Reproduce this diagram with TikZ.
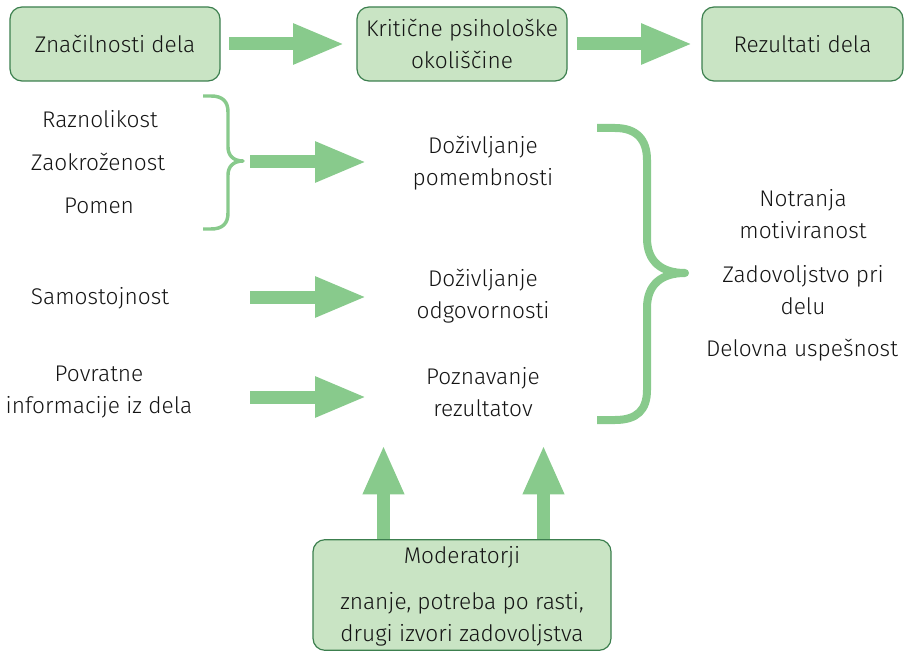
\documentclass[tikz,border=0pt]{standalone}
\usepackage{fontspec}
\setmainfont{Fira Sans}[UprightFont=* Light]
\usetikzlibrary{arrows.meta}
\definecolor{boxfill}{HTML}{C9E4C4}
\definecolor{boxline}{HTML}{3C7F4E}
\definecolor{arrowgreen}{HTML}{88CA8C}
\definecolor{ink}{HTML}{141414}
\begin{document}
\begin{tikzpicture}[x=0.75pt,y=-0.75pt,
  every node/.style={font=\fontsize{17}{24}\selectfont, text=ink, align=center},
  box/.style={draw=boxline, line width=0.9pt, fill=boxfill, rounded corners=9pt, inner sep=0pt},
  fat/.style={draw=arrowgreen, line width=9.75pt, -{Triangle[length=39pt,width=28pt]}},
  fatv/.style={draw=arrowgreen, line width=9.75pt, -{Triangle[length=37pt,width=28.5pt]}},
  brace/.style={draw=arrowgreen, line cap=butt, line join=round}]
\useasboundingbox (0,0) rectangle (913,652);

% header boxes
\node[box, minimum width=157.5pt, minimum height=55.5pt] (b1) at (115,44) {Značilnosti dela};
\node[box, minimum width=157.5pt, minimum height=55.5pt] (b2) at (462,44) {Kritične psihološke\\okoliščine};
\node[box, minimum width=150.75pt, minimum height=55.5pt] (b3) at (802.5,44) {Rezultati dela};

% moderator box
\node[box, minimum width=223.5pt, minimum height=83pt] (b4) at (462,595) {};
\node (mod) at (462,557) {Moderatorji};
\node (modtxt) at (462,619) {znanje, potreba po rasti,\\drugi izvori zadovoljstva};

% job characteristics
\node (raz) at (100,119) {Raznolikost};
\node (zao) at (98,162) {Zaokroženost};
\node (pom) at (99,206) {Pomen};
\node (sam) at (100,298) {Samostojnost};
\node (pov) at (99,392) {Povratne\\informacije iz dela};

% psychological states
\node (s1) at (483,163) {Doživljanje\\pomembnosti};
\node (s2) at (483,296) {Doživljanje\\odgovornosti};
\node (s3) at (483,392) {Poznavanje\\rezultatov};

% outcomes
\node (o1) at (803,214) {Notranja\\motiviranost};
\node (o2) at (803,290) {Zadovoljstvo pri\\delu};
\node (o3) at (802,350) {Delovna uspešnost};

% anchor points for the fat arrows
\coordinate (a1s) at (229,44);  \coordinate (a1e) at (345,44);
\coordinate (a2s) at (577,44);  \coordinate (a2e) at (693,44);
\coordinate (m1s) at (250,162); \coordinate (m1e) at (367,162);
\coordinate (m2s) at (250,297); \coordinate (m2e) at (367,297);
\coordinate (m3s) at (250,397); \coordinate (m3e) at (367,397);
\coordinate (u1s) at (383.5,537); \coordinate (u1e) at (383.5,445);
\coordinate (u2s) at (543.5,537); \coordinate (u2e) at (543.5,445);

\draw[fat] (a1s) -- (a1e);
\draw[fat] (a2s) -- (a2e);
\draw[fat] (m1s) -- (m1e);
\draw[fat] (m2s) -- (m2e);
\draw[fat] (m3s) -- (m3e);
\draw[fatv] (u1s |- b4.north) -- (u1e);
\draw[fatv] (u2s |- b4.north) -- (u2e);

% brace grouping the first three characteristics
\draw[brace, line width=2.6pt]
  (203,96) -- (211,96) .. controls (222,96) and (228,101) .. (228,112)
  -- (228,147) .. controls (228,156) and (234,161) .. (243,161)
  .. controls (234,161) and (228,166) .. (228,175)
  -- (228,213) .. controls (228,224) and (222,229) .. (211,229) -- (203,229);

% brace grouping the three psychological states
\draw[brace, line width=6pt]
  (597,128) -- (615,128) .. controls (637,128) and (647,140) .. (647,160)
  -- (647,238) .. controls (647,262) and (662,273) .. (685,273)
  .. controls (662,273) and (647,284) .. (647,308)
  -- (647,390) .. controls (647,410) and (637,420) .. (615,420) -- (597,420);
\end{tikzpicture}
\end{document}
